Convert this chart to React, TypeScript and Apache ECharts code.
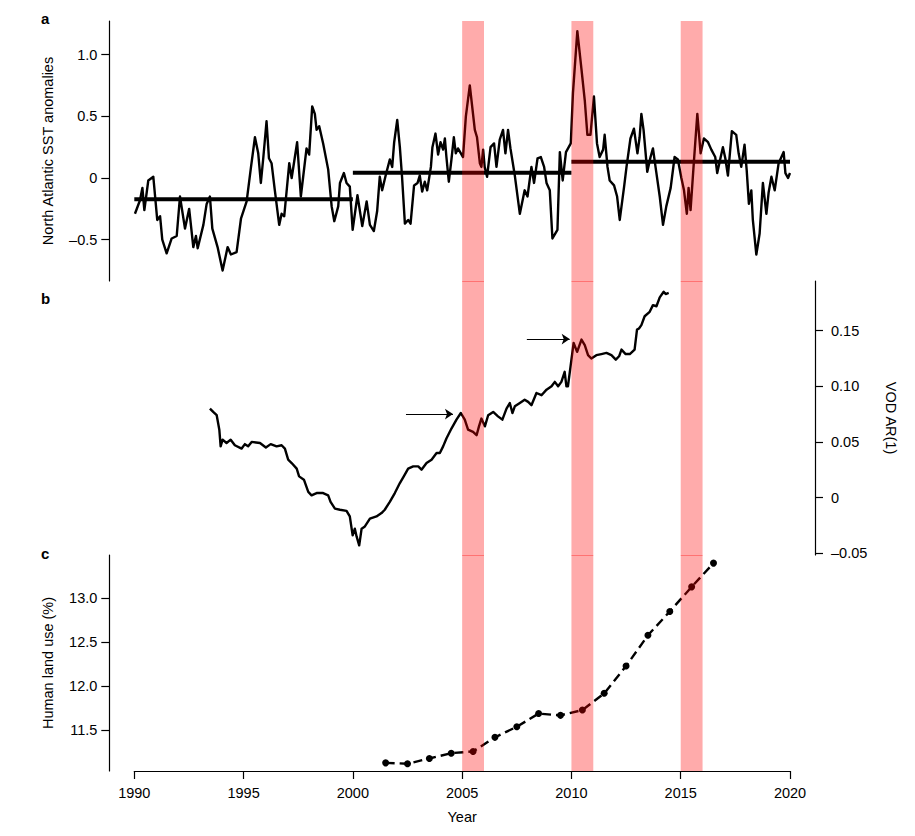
import React, { useEffect, useRef } from "react";
import * as echarts from "echarts";

// ---------- data ----------
const sstYears = [
  1990.03, 1990.26, 1990.37, 1990.46, 1990.64, 1990.87, 1991.05, 1991.18, 1991.28, 1991.48,
  1991.71, 1991.94, 1992.09, 1992.32, 1992.51, 1992.7, 1992.82, 1992.9, 1993.16, 1993.31,
  1993.46, 1993.57, 1993.81, 1994.04, 1994.27, 1994.42, 1994.68, 1994.88, 1995.14, 1995.34,
  1995.52, 1995.67, 1995.79, 1995.9, 1996.05, 1996.16, 1996.28, 1996.43, 1996.63, 1996.74,
  1996.86, 1997.09, 1997.2, 1997.45, 1997.62, 1997.88, 1998.0, 1998.14, 1998.26, 1998.34,
  1998.46, 1998.64, 1998.87, 1999.03, 1999.15, 1999.33, 1999.41, 1999.59, 1999.71, 1999.86,
  1999.99, 2000.21, 2000.43, 2000.63, 2000.78, 2000.96, 2001.11, 2001.23, 2001.34, 2001.5,
  2001.69, 2001.8, 2001.89, 2002.03, 2002.15, 2002.25, 2002.38, 2002.53, 2002.64, 2002.8,
  2002.96, 2003.06, 2003.17, 2003.29, 2003.4, 2003.57, 2003.64, 2003.78, 2003.9, 2004.01,
  2004.13, 2004.21, 2004.28, 2004.39, 2004.51, 2004.62, 2004.71, 2004.81, 2005.04, 2005.17,
  2005.35, 2005.58, 2005.68, 2005.81, 2005.88, 2005.96, 2006.03, 2006.14, 2006.3, 2006.46,
  2006.57, 2006.72, 2006.87, 2006.98, 2007.1, 2007.21, 2007.41, 2007.64, 2007.86, 2007.99,
  2008.17, 2008.29, 2008.45, 2008.6, 2008.75, 2008.86, 2009.01, 2009.13, 2009.36, 2009.47,
  2009.6, 2009.75, 2009.97, 2010.07, 2010.27, 2010.46, 2010.61, 2010.73, 2010.87, 2011.03,
  2011.17, 2011.29, 2011.45, 2011.52, 2011.65, 2011.75, 2011.95, 2012.09, 2012.21, 2012.41,
  2012.52, 2012.7, 2012.86, 2013.02, 2013.12, 2013.2, 2013.3, 2013.47, 2013.62, 2013.73,
  2013.88, 2014.04, 2014.19, 2014.34, 2014.54, 2014.72, 2014.87, 2015.03, 2015.15, 2015.28,
  2015.36, 2015.45, 2015.61, 2015.76, 2015.91, 2016.06, 2016.25, 2016.4, 2016.58, 2016.67,
  2016.83, 2016.93, 2017.04, 2017.16, 2017.34, 2017.54, 2017.65, 2017.77, 2017.92, 2018.02,
  2018.12, 2018.23, 2018.3, 2018.46, 2018.61, 2018.76, 2018.92, 2019.02, 2019.15, 2019.3,
  2019.48, 2019.71, 2019.79, 2019.91, 2020.0,
];
const sstValues = [
  -0.29, -0.18, -0.08, -0.26, -0.02, 0.01, -0.34, -0.31, -0.5, -0.61,
  -0.49, -0.47, -0.15, -0.41, -0.25, -0.56, -0.47, -0.57, -0.38, -0.21,
  -0.15, -0.41, -0.56, -0.75, -0.56, -0.62, -0.6, -0.33, -0.19, 0.09,
  0.33, 0.2, -0.04, 0.16, 0.46, 0.16, 0.12, -0.1, -0.38, -0.29,
  -0.31, 0.12, 0.0, 0.29, -0.15, 0.24, 0.19, 0.58, 0.52, 0.39,
  0.42, 0.28, 0.07, -0.23, -0.35, -0.23, -0.04, 0.04, -0.04, -0.07,
  -0.42, -0.14, -0.39, -0.19, -0.38, -0.43, -0.27, 0.01, -0.1, 0.02,
  0.15, 0.09, 0.29, 0.47, 0.25, 0.01, -0.37, -0.34, -0.37, -0.06,
  -0.04, 0.02, -0.11, -0.03, -0.1, 0.09, 0.25, 0.36, 0.19, 0.29,
  0.23, 0.32, 0.17, -0.03, 0.15, 0.33, 0.2, 0.24, 0.17, 0.5,
  0.75, 0.39, 0.33, 0.12, 0.09, 0.23, 0.09, 0.01, 0.25, 0.28,
  0.09, 0.31, 0.39, 0.2, 0.39, 0.24, 0.02, -0.29, -0.1, -0.15,
  0.09, -0.04, 0.16, 0.17, 0.09, -0.04, -0.1, -0.49, -0.42, 0.21,
  -0.02, 0.21, 0.28, 0.69, 1.19, 0.88, 0.63, 0.35, 0.35, 0.66,
  0.28, 0.17, 0.23, 0.35, 0.09, -0.02, -0.06, -0.15, -0.34, -0.07,
  0.09, 0.32, 0.4, 0.2, 0.33, 0.52, 0.39, 0.05, 0.17, 0.24,
  0.05, -0.15, -0.38, -0.23, -0.08, 0.17, 0.15, 0.0, -0.1, -0.29,
  -0.08, -0.26, 0.15, 0.52, 0.2, 0.32, 0.29, 0.23, 0.17, 0.04,
  0.17, 0.25, 0.16, 0.02, 0.38, 0.35, 0.2, 0.09, 0.27, 0.06,
  -0.21, -0.1, -0.34, -0.62, -0.45, -0.04, -0.29, -0.12, 0.01, -0.1,
  0.12, 0.21, 0.04, 0.0, 0.04,
];
const sstPeriodBounds = [1990, 2000, 2010, 2020];
const sstPeriodMeans = [-0.173, 0.043, 0.132];

const vodYears = [
  1993.46, 1993.61, 1993.77, 1993.89, 1993.95, 1994.04, 1994.22, 1994.41, 1994.6, 1994.91,
  1995.06, 1995.21, 1995.37, 1995.75, 1996.02, 1996.24, 1996.51, 1996.74, 1996.89, 1997.04,
  1997.2, 1997.43, 1997.54, 1997.76, 1997.96, 1998.11, 1998.34, 1998.64, 1998.87, 1998.98,
  1999.18, 1999.41, 1999.71, 1999.86, 1999.99, 2000.09, 2000.17, 2000.29, 2000.4, 2000.55,
  2000.78, 2001.08, 2001.31, 2001.46, 2001.69, 2001.92, 2002.15, 2002.33, 2002.53, 2002.76,
  2002.99, 2003.14, 2003.37, 2003.6, 2003.83, 2003.98, 2004.13, 2004.28, 2004.51, 2004.74,
  2004.94, 2005.12, 2005.27, 2005.5, 2005.66, 2005.77, 2005.88, 2006.04, 2006.19, 2006.42,
  2006.64, 2006.84, 2007.03, 2007.18, 2007.3, 2007.41, 2007.64, 2007.86, 2008.02, 2008.17,
  2008.4, 2008.63, 2008.86, 2009.09, 2009.24, 2009.39, 2009.54, 2009.69, 2009.77, 2009.84,
  2010.0, 2010.1, 2010.26, 2010.46, 2010.61, 2010.76, 2010.91, 2011.14, 2011.37, 2011.6,
  2011.83, 2012.03, 2012.18, 2012.29, 2012.48, 2012.67, 2012.89, 2013.0, 2013.09, 2013.2,
  2013.35, 2013.58, 2013.73, 2013.89, 2014.04, 2014.22, 2014.31, 2014.45,
];
const vodValues = [
  0.08, 0.077, 0.074, 0.061, 0.046, 0.052, 0.049, 0.052, 0.047, 0.044,
  0.048, 0.046, 0.05, 0.049, 0.045, 0.048, 0.046, 0.047, 0.044, 0.034,
  0.031, 0.026, 0.019, 0.016, 0.005, 0.002, 0.004, 0.004, 0.002, -0.004,
  -0.01, -0.011, -0.012, -0.017, -0.034, -0.028, -0.035, -0.043, -0.028, -0.026,
  -0.019, -0.017, -0.014, -0.011, -0.004, 0.004, 0.013, 0.019, 0.026, 0.028,
  0.028, 0.025, 0.031, 0.034, 0.04, 0.04, 0.046, 0.053, 0.062, 0.07,
  0.076, 0.07, 0.061, 0.059, 0.056, 0.064, 0.071, 0.064, 0.074, 0.077,
  0.073, 0.07, 0.08, 0.085, 0.076, 0.082, 0.085, 0.088, 0.086, 0.083,
  0.094, 0.092, 0.097, 0.1, 0.104, 0.1, 0.104, 0.113, 0.1, 0.1,
  0.124, 0.139, 0.131, 0.142, 0.137, 0.128, 0.125, 0.128, 0.129, 0.13,
  0.128, 0.124, 0.127, 0.133, 0.129, 0.129, 0.133, 0.151, 0.152, 0.155,
  0.163, 0.167, 0.173, 0.172, 0.18, 0.185, 0.183, 0.184,
];

const landYears = [
  2001.5, 2002.5, 2003.5, 2004.5, 2005.5, 2006.5, 2007.5, 2008.5,
  2009.5, 2010.5, 2011.5, 2012.5, 2013.5, 2014.5, 2015.5, 2016.5,
];
const landValues = [
  11.13, 11.12, 11.18, 11.24, 11.26, 11.42, 11.54, 11.69,
  11.67, 11.73, 11.92, 12.23, 12.58, 12.85, 13.13, 13.4,
];

const bandStarts = [2005, 2010, 2015];
const bandEnds = [2006, 2011, 2016];

const arrowStartYears = [2002.43, 2007.96];
const arrowEndYears = [2004.58, 2009.92];
const arrowValues = [0.075, 0.1425];

const yearTicks = [1990, 1995, 2000, 2005, 2010, 2015, 2020];
const sstTicks = [-0.5, 0, 0.5, 1.0];
const vodTicks = [-0.05, 0, 0.05, 0.1, 0.15];
const landTicks = [11.5, 12.0, 12.5, 13.0];

// ---------- styling ----------
const FONT = "'Liberation Sans', Arial, Helvetica, sans-serif";
const FS = 14.5;
const GL = 134.3;
const GW = 655.7;

const minus = (s: string) => s.replace("-", "\u2013");

const leftAxisBase = {
  type: "value",
  position: "left",
  offset: 25,
  axisLine: { show: true, onZero: false, lineStyle: { color: "#000", width: 1.2 } },
  axisTick: { show: true, inside: false, length: 8, lineStyle: { color: "#000", width: 1.2 } },
  splitLine: { show: false },
  nameLocation: "middle",
  nameRotate: 90,
  nameTextStyle: { color: "#000", fontSize: FS, fontFamily: FONT },
};

function bandSeries(gi: number, extra: number) {
  return {
    type: "custom",
    xAxisIndex: gi,
    yAxisIndex: gi,
    z: 10,
    silent: true,
    clip: false,
    data: bandStarts.map((s, i) => [s, bandEnds[i]]),
    encode: { x: [0, 1] },
    renderItem: (params: any, api: any) => {
      const cs = params.coordSys;
      const x0 = api.coord([api.value(0), 0])[0];
      const x1 = api.coord([api.value(1), 0])[0];
      return {
        type: "rect",
        shape: { x: x0, y: cs.y, width: x1 - x0, height: cs.height + extra },
        style: { fill: "rgba(255,0,0,0.33)" },
      };
    },
  };
}

export default function App() {
  const ref = useRef<HTMLDivElement>(null);
  useEffect(() => {
    if (!ref.current) return;
    const chart = echarts.init(ref.current, null, { renderer: "svg" });
    const option: any = {
      animation: false,
      backgroundColor: "#fff",
      textStyle: { fontFamily: FONT, color: "#000" },
      grid: [
        { left: GL, top: 21, width: GW, height: 260, outerBoundsMode: "none" },
        { left: GL, top: 281, width: GW, height: 274, outerBoundsMode: "none" },
        { left: GL, top: 555, width: GW, height: 216, outerBoundsMode: "none" },
      ],
      xAxis: [
        { type: "value", gridIndex: 0, min: 1990, max: 2020, show: false },
        { type: "value", gridIndex: 1, min: 1990, max: 2020, show: false },
        {
          type: "value",
          gridIndex: 2,
          min: 1990,
          max: 2020,
          interval: 5,
          position: "bottom",
          axisLine: { show: true, onZero: false, lineStyle: { color: "#000", width: 1.2 } },
          axisTick: {
            show: true,
            length: 8,
            customValues: yearTicks,
            lineStyle: { color: "#000", width: 1.2 },
          },
          axisLabel: {
            customValues: yearTicks,
            color: "#000",
            fontSize: FS,
            fontFamily: FONT,
            margin: 14,
            formatter: (v: number) => String(v),
          },
          splitLine: { show: false },
          name: "Year",
          nameLocation: "middle",
          nameGap: 38,
          nameTextStyle: { color: "#000", fontSize: FS, fontFamily: FONT },
        },
      ],
      yAxis: [
        {
          ...leftAxisBase,
          gridIndex: 0,
          min: -0.8347,
          max: 1.2723,
          name: "North Atlantic SST anomalies",
          nameGap: 54,
          axisTick: { ...leftAxisBase.axisTick, customValues: sstTicks },
          axisLabel: {
            customValues: sstTicks,
            color: "#000",
            fontSize: FS,
            fontFamily: FONT,
            margin: 12,
            formatter: (v: number) => (v === 0 ? "0" : minus(v.toFixed(1))),
          },
        },
        {
          ...leftAxisBase,
          gridIndex: 1,
          position: "right",
          min: -0.0517,
          max: 0.1947,
          name: "VOD AR(1)",
          nameRotate: -90,
          nameGap: 68,
          axisTick: { ...leftAxisBase.axisTick, customValues: vodTicks },
          axisLabel: {
            customValues: vodTicks,
            color: "#000",
            fontSize: FS,
            fontFamily: FONT,
            margin: 16,
            formatter: (v: number) => (Math.abs(v) < 1e-9 ? "0" : minus(v.toFixed(2))),
          },
        },
        {
          ...leftAxisBase,
          gridIndex: 2,
          min: 11.0375,
          max: 13.492,
          name: "Human land use (%)",
          nameGap: 54,
          axisTick: { ...leftAxisBase.axisTick, customValues: landTicks },
          axisLabel: {
            customValues: landTicks,
            color: "#000",
            fontSize: FS,
            fontFamily: FONT,
            margin: 12,
            formatter: (v: number) => v.toFixed(1),
          },
        },
      ],
      graphic: [
        { type: "text", left: 41, top: 11, style: { text: "a", font: `bold 15px ${FONT}`, fill: "#000" } },
        { type: "text", left: 41, top: 291, style: { text: "b", font: `bold 15px ${FONT}`, fill: "#000" } },
        { type: "text", left: 41, top: 546, style: { text: "c", font: `bold 15px ${FONT}`, fill: "#000" } },
      ],
      series: [
        {
          type: "line",
          xAxisIndex: 0,
          yAxisIndex: 0,
          data: sstYears.map((y, i) => [y, sstValues[i]]),
          showSymbol: false,
          lineStyle: { color: "#000", width: 2.4, join: "round" },
          z: 2,
        },
        ...sstPeriodMeans.map((m, i) => ({
          type: "line",
          xAxisIndex: 0,
          yAxisIndex: 0,
          data: [
            [sstPeriodBounds[i], m],
            [sstPeriodBounds[i + 1], m],
          ],
          showSymbol: false,
          lineStyle: { color: "#000", width: 4 },
          z: 3,
        })),
        {
          type: "line",
          xAxisIndex: 1,
          yAxisIndex: 1,
          data: vodYears.map((y, i) => [y, vodValues[i]]),
          showSymbol: false,
          lineStyle: { color: "#000", width: 2.4, join: "round" },
          z: 2,
          markLine: {
            silent: true,
            symbol: ["none", "arrow"],
            symbolSize: 8,
            label: { show: false },
            lineStyle: { color: "#000", width: 1.2, type: "solid" },
            emphasis: { disabled: true },
            data: arrowStartYears.map((s, i) => [
              { coord: [s, arrowValues[i]] },
              { coord: [arrowEndYears[i], arrowValues[i]] },
            ]),
          },
        },
        {
          type: "line",
          xAxisIndex: 2,
          yAxisIndex: 2,
          data: landYears.map((y, i) => [y, landValues[i]]),
          showSymbol: true,
          symbol: "circle",
          symbolSize: 7,
          itemStyle: { color: "#000" },
          lineStyle: { color: "#000", width: 2.4, type: [9, 5] },
          z: 2,
        },
        bandSeries(0, 1),
        bandSeries(1, 1),
        bandSeries(2, 0),
      ],
    };
    chart.setOption(option);
    return () => chart.dispose();
  }, []);
  return (
    <div
      ref={ref}
      style={{ position: "fixed", left: 0, top: 0, width: 915, height: 836, background: "#fff" }}
    />
  );
}
